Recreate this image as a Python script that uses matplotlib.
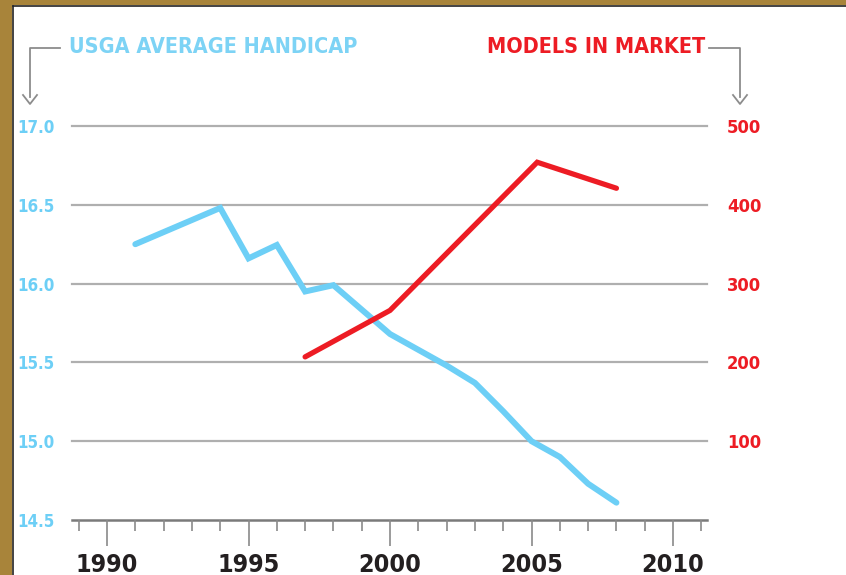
import matplotlib
matplotlib.use("Agg")
import matplotlib.pyplot as plt
from matplotlib.patches import Rectangle
from matplotlib.lines import Line2D

# ---- data ----
hc_years = [1991, 1994, 1995, 1996, 1997, 1998, 1999, 2000, 2001, 2002, 2003, 2004, 2005, 2006, 2007, 2008]
handicap = [16.25, 16.48, 16.16, 16.245, 15.95, 15.99, 15.835, 15.68, 15.58, 15.48, 15.37, 15.19, 15.0, 14.9, 14.73, 14.61]
model_years = [1997, 2000, 2005.2, 2008]
models = [207, 266, 454, 421]
left_ticks = [14.5, 15.0, 15.5, 16.0, 16.5, 17.0]
left_labels = ["14.5", "15.0", "15.5", "16.0", "16.5", "17.0"]
right_ticks = [100, 200, 300, 400, 500]
right_labels = ["100", "200", "300", "400", "500"]
year_ticks = [1990, 1995, 2000, 2005, 2010]
year_labels = ["1990", "1995", "2000", "2005", "2010"]

BLUE = "#6DCFF6"
RED = "#ED1C24"
GRID = "#AFAFAF"
DARK = "#231F20"
FONT = ["DejaVu Sans"]
STRETCH = "condensed"

W, H = 846, 575
fig = plt.figure(figsize=(W / 100, H / 100), dpi=100)
fig.patch.set_facecolor("white")

def fx(px):
    return px / W

def fy(py):
    return 1 - py / H

# axes: x 71.8..707 px, y 126..520 px
ax = fig.add_axes([fx(71.8), fy(520), fx(707) - fx(71.8), fy(126) - fy(520)])
ax.set_xlim(1988.756, 2011.2)
ax.set_ylim(14.5, 17.0)
ax.patch.set_alpha(0)
for s in ax.spines.values():
    s.set_visible(False)

# gridlines
for v in left_ticks[1:]:
    ax.axhline(v, color=GRID, lw=1.6, zorder=1, clip_on=False)
ax.axhline(14.5, color="#7A7A7A", lw=1.8, zorder=1, clip_on=False)

# x ticks
ax.set_xticks(year_ticks)
ax.set_xticklabels(year_labels, fontsize=18, fontweight="bold", color=DARK,
                   family=FONT, fontstretch=STRETCH)
ax.set_xticks(list(range(1989, 2012)), minor=True)
ax.tick_params(axis="x", which="major", length=18.5, width=1.2, color="#8A8A8A", pad=5)
ax.tick_params(axis="x", which="minor", length=8, width=1.2, color="#8A8A8A")

# left y ticks
ax.set_yticks(left_ticks)
ax.set_yticklabels(left_labels, fontsize=12.2, fontweight="bold", color=BLUE,
                   family=FONT, fontstretch=STRETCH)
for t in ax.get_yticklabels():
    t.set_horizontalalignment("left")
ax.tick_params(axis="y", length=0, pad=39.5)

# handicap line
ax.plot(hc_years, handicap, color=BLUE, lw=4.3, solid_capstyle="round",
        solid_joinstyle="miter", zorder=3, clip_on=False)

# right axis
ax2 = ax.twinx()
ax2.set_ylim(0, 500)
for s in ax2.spines.values():
    s.set_visible(False)
ax2.set_yticks(right_ticks)
ax2.set_yticklabels(right_labels, fontsize=13.2, fontweight="bold", color=RED,
                    family=FONT, fontstretch=STRETCH)
for t in ax2.get_yticklabels():
    t.set_horizontalalignment("right")
ax2.tick_params(axis="y", length=0, pad=39)
ax2.plot(model_years, models, color=RED, lw=3.8, solid_capstyle="round",
         solid_joinstyle="miter", zorder=3, clip_on=False)

# headers
fig.text(fx(69), fy(47), "USGA AVERAGE HANDICAP", color="#7DD3F5", fontsize=15.5,
         fontweight="bold", family=FONT, fontstretch=STRETCH, ha="left", va="center")
fig.text(fx(705), fy(47), "MODELS IN MARKET", color=RED, fontsize=15.5,
         fontweight="bold", family=FONT, fontstretch=STRETCH, ha="right", va="center")

# bracket arrows
ARR = "#8C8C8C"
for (x0, x1) in [(60, 30), (709, 740)]:
    fig.add_artist(Line2D([fx(x0), fx(x1), fx(x1)], [fy(48), fy(48), fy(97)],
                          color=ARR, lw=1.3, transform=fig.transFigure))
    fig.add_artist(Line2D([fx(x1 - 7), fx(x1), fx(x1 + 7)], [fy(95), fy(104), fy(95)],
                          color=ARR, lw=1.3, transform=fig.transFigure))

# border (gold frame)
GOLD = "#A8843A"
fig.add_artist(Rectangle((0, 0), fx(12), 1, transform=fig.transFigure,
                         facecolor=GOLD, edgecolor="none", zorder=10))
fig.add_artist(Rectangle((0, fy(5)), 1, 1 - fy(5), transform=fig.transFigure,
                         facecolor=GOLD, edgecolor="none", zorder=10))
fig.add_artist(Line2D([fx(12.5), fx(12.5)], [0, fy(5.5)], color="#222222", lw=1.2,
                      transform=fig.transFigure, zorder=11))
fig.add_artist(Line2D([fx(12.5), 1], [fy(5.5), fy(5.5)], color="#222222", lw=1.2,
                      transform=fig.transFigure, zorder=11))

fig.savefig("out.png", dpi=100)
